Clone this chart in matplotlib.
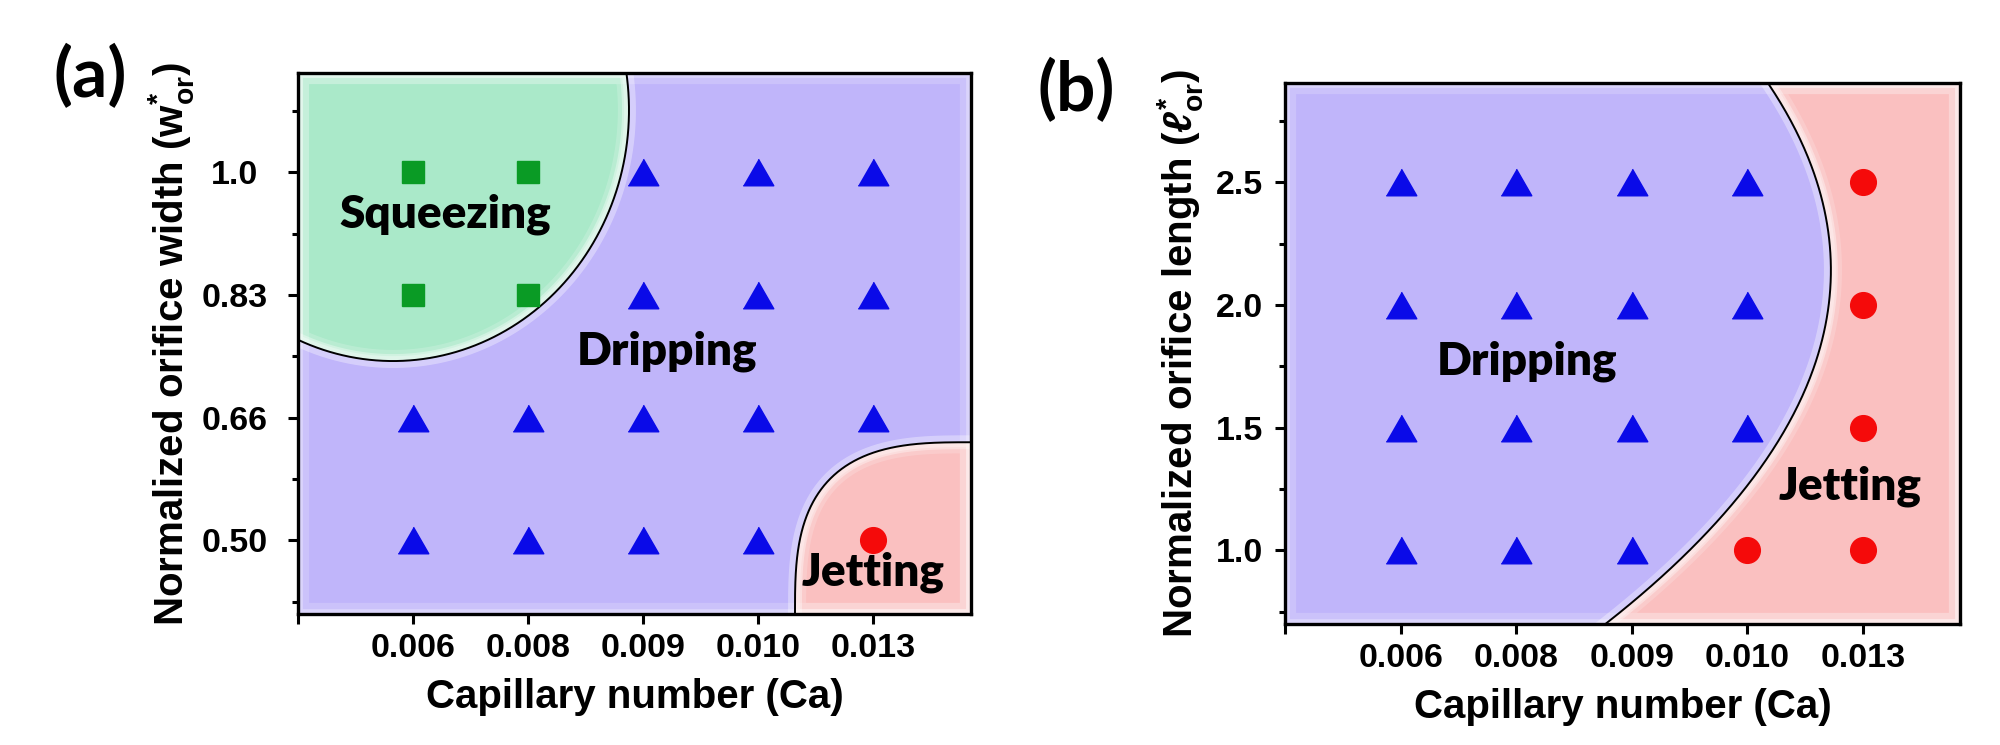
import matplotlib
matplotlib.use('Agg')
import matplotlib.pyplot as plt
import numpy as np
from matplotlib.patches import Polygon

# ---------------- data ----------------
ca_labels = ['0.006', '0.008', '0.009', '0.010', '0.013']
width_labels = ['0.50', '0.66', '0.83', '1.0']
length_labels = ['1.0', '1.5', '2.0', '2.5']

# panel (a): orifice width vs Ca
a_squeezing_ca = ['0.006', '0.008', '0.006', '0.008']
a_squeezing_w = ['1.0', '1.0', '0.83', '0.83']
a_dripping_ca = ['0.009', '0.010', '0.013',
                 '0.009', '0.010', '0.013',
                 '0.006', '0.008', '0.009', '0.010', '0.013',
                 '0.006', '0.008', '0.009', '0.010']
a_dripping_w = ['1.0', '1.0', '1.0',
                '0.83', '0.83', '0.83',
                '0.66', '0.66', '0.66', '0.66', '0.66',
                '0.50', '0.50', '0.50', '0.50']
a_jetting_ca = ['0.013']
a_jetting_w = ['0.50']

# panel (b): orifice length vs Ca
b_dripping_ca = ['0.006', '0.008', '0.009', '0.010',
                 '0.006', '0.008', '0.009', '0.010',
                 '0.006', '0.008', '0.009', '0.010',
                 '0.006', '0.008', '0.009']
b_dripping_l = ['2.5', '2.5', '2.5', '2.5',
                '2.0', '2.0', '2.0', '2.0',
                '1.5', '1.5', '1.5', '1.5',
                '1.0', '1.0', '1.0']
b_jetting_ca = ['0.013', '0.013', '0.013', '0.013', '0.010']
b_jetting_l = ['2.5', '2.0', '1.5', '1.0', '1.0']

# ---------------- style ----------------
plt.rcParams['font.family'] = ['Liberation Sans', 'DejaVu Sans']
plt.rcParams['font.weight'] = 'bold'
plt.rcParams['mathtext.fontset'] = 'custom'
plt.rcParams['mathtext.rm'] = 'Liberation Sans'
plt.rcParams['mathtext.it'] = 'Liberation Sans:italic'
plt.rcParams['mathtext.bf'] = 'Liberation Sans:bold'

C_DRIP = '#C0B5FA'
C_SQZ = '#AAE9C9'
C_JET = '#FAC0C0'
M_TRI = '#0A0AE8'
M_SQ = '#0A9B25'
M_CIR = '#F50A0A'
REGION_FONT = ['Lato', 'DejaVu Sans']
REGION_WEIGHT = 'heavy'

XLIM = (0, 5.85)
YLIM = (0.4, 4.81)

fig = plt.figure(figsize=(20, 7.45), dpi=100)
ax_a = fig.add_axes([0.149, 0.17584, 0.3365, 0.72617])
ax_b = fig.add_axes([0.6425, 0.16242, 0.3375, 0.72617])

tri = [(-1, -0.87), (1, -0.87), (0, 0.87)]


def xi(c):
    return ca_labels.index(c) + 1


def region(ax, verts, color):
    poly = Polygon(verts, closed=True, facecolor=color, edgecolor='none', zorder=1)
    ax.add_patch(poly)
    for lw, al in [(16, 0.18), (7, 0.30)]:
        g = Polygon(verts, closed=True, facecolor='none', edgecolor='white',
                    lw=lw, alpha=al, zorder=1.2, joinstyle='miter')
        ax.add_patch(g)
        g.set_clip_path(poly)
    return poly


def boundary(ax, x, y):
    ax.plot(x, y, color='black', lw=1.4, zorder=3, solid_capstyle='butt')


def style_axes(ax, ylabels):
    ax.set_xlim(*XLIM)
    ax.set_ylim(*YLIM)
    ax.set_xticks([0, 1, 2, 3, 4, 5], [''] + ca_labels)
    ax.set_yticks([1, 2, 3, 4], ylabels)
    ax.set_yticks([0.5, 1.5, 2.5, 3.5, 4.5], minor=True)
    ax.tick_params(axis='both', which='major', direction='out', length=7.5,
                   width=2.2, labelsize=24.5, colors='black')
    ax.tick_params(axis='y', which='minor', direction='out', length=4, width=2.2)
    ax.tick_params(axis='x', pad=6)
    for sp in ax.spines.values():
        sp.set_linewidth(2.4)
        sp.set_color('black')
        sp.set_zorder(6)
    ax.set_xlabel('Capillary number (Ca)', fontsize=29, fontweight='bold')
    ax.xaxis.label.set_va('top')
    ax.xaxis.set_label_coords(0.5, -0.118)


# ================= panel (a) =================
ax = ax_a
x0, x1 = XLIM
y0, y1 = YLIM
region(ax, [(x0, y0), (x1, y0), (x1, y1), (x0, y1)], C_DRIP)

# squeezing region (ellipse in upper-left)
cx, cy, ea, eb = 0.826, 4.508, 2.051, 2.046
tL = -np.arccos((x0 - cx) / ea)
tT = np.arcsin((y1 - cy) / eb)
t = np.linspace(tL, tT, 300)
sx = cx + ea * np.cos(t)
sy = cy + eb * np.sin(t)
region(ax, list(zip(sx, sy)) + [(x0, y1)], C_SQZ)
ax.plot(sx, sy, color='white', lw=10, alpha=0.35, zorder=1.5)
boundary(ax, sx, sy)

# jetting region (rounded corner, lower-right)
ja, jb, n = 1.53, 1.40, 3.0
t = np.linspace(0, np.pi / 2, 300)
jx = x1 - ja * np.cos(t) ** (2 / n)
jy = y0 + jb * np.sin(t) ** (2 / n)
region(ax, list(zip(jx, jy)) + [(x1, y0)], C_JET)
ax.plot(jx, jy, color='white', lw=10, alpha=0.35, zorder=1.5)
boundary(ax, jx, jy)

ax.plot([xi(c) for c in a_dripping_ca], [width_labels.index(w) + 1 for w in a_dripping_w],
        linestyle='none', marker=tri, markersize=22, color=M_TRI, zorder=5)
ax.plot([xi(c) for c in a_squeezing_ca], [width_labels.index(w) + 1 for w in a_squeezing_w],
        linestyle='none', marker='s', markersize=16.5, color=M_SQ, zorder=5)
ax.plot([xi(c) for c in a_jetting_ca], [width_labels.index(w) + 1 for w in a_jetting_w],
        linestyle='none', marker='o', markersize=18.5, color=M_CIR, zorder=5)

ax.text(1.278, 3.554, 'Squeezing', family=REGION_FONT, fontweight=REGION_WEIGHT, fontsize=33,
        ha='center', va='baseline', zorder=7)
ax.text(3.208, 2.437, 'Dripping', family=REGION_FONT, fontweight=REGION_WEIGHT, fontsize=33,
        ha='center', va='baseline', zorder=7)
ax.text(5.003, 0.636, 'Jetting', family=REGION_FONT, fontweight=REGION_WEIGHT, fontsize=33,
        ha='center', va='baseline', zorder=7)

style_axes(ax, width_labels)
ax.tick_params(axis='y', which='major', pad=38)
for lab in ax.get_yticklabels():
    lab.set_ha('center')
ax.set_ylabel('Normalized orifice width ' + r'$\mathrm{(w^{*}_{or})}$', fontsize=29,
              fontweight='bold')
ax.yaxis.label.set_va('center')
ax.yaxis.set_label_coords(-0.189, 0.5)

# ================= panel (b) =================
ax = ax_b
x0, x1 = (0, 5.84)
region(ax, [(x0, y0), (x1, y0), (x1, y1), (x0, y1)], C_DRIP)
vx, vy, k = 4.723, 3.285, 0.2344
py = np.linspace(y0, y1, 300)
px = vx - k * (py - vy) ** 2
region(ax, list(zip(px, py)) + [(x1, y1), (x1, y0)], C_JET)
ax.plot(px, py, color='white', lw=10, alpha=0.35, zorder=1.5)
boundary(ax, px, py)

ax.plot([xi(c) for c in b_dripping_ca], [length_labels.index(v) + 1 for v in b_dripping_l],
        linestyle='none', marker=tri, markersize=22, color=M_TRI, zorder=5)
ax.plot([xi(c) for c in b_jetting_ca], [length_labels.index(v) + 1 for v in b_jetting_l],
        linestyle='none', marker='o', markersize=18.5, color=M_CIR, zorder=5)

ax.text(2.093, 2.437, 'Dripping', family=REGION_FONT, fontweight=REGION_WEIGHT, fontsize=33,
        ha='center', va='baseline', zorder=7)
ax.text(4.888, 1.411, 'Jetting', family=REGION_FONT, fontweight=REGION_WEIGHT, fontsize=33,
        ha='center', va='baseline', zorder=7)

style_axes(ax, length_labels)
ax.set_xlim(0, 5.84)
ax.tick_params(axis='y', which='major', pad=8)
ax.set_ylabel('Normalized orifice length ' + r'$\mathrm{(}\ell^{*}_{\mathrm{or}}\mathrm{)}$',
              fontsize=29, fontweight='bold')
ax.yaxis.label.set_va('center')
ax.yaxis.set_label_coords(-0.1556, 0.5)

# panel letters
fig.text(90 / 2000, 1 - 77 / 745, '(a)', family=REGION_FONT, fontweight='bold',
         fontsize=50, ha='center', va='center')
fig.text(1076 / 2000, 1 - 91 / 745, '(b)', family=REGION_FONT, fontweight='bold',
         fontsize=50, ha='center', va='center')

fig.savefig('out.png', dpi=100)
